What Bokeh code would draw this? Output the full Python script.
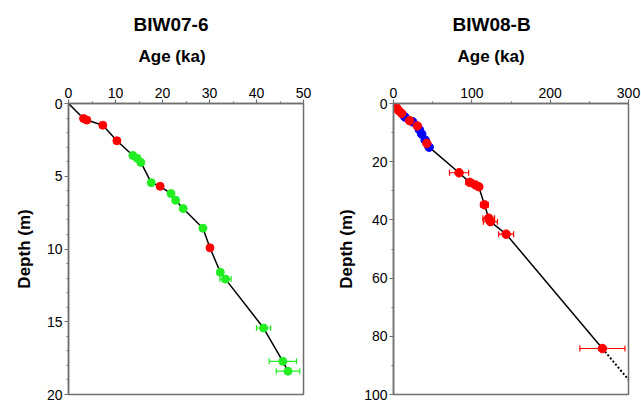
from bokeh.plotting import figure
from bokeh.layouts import row
from bokeh.models import Range1d, FixedTicker, Whisker, ColumnDataSource, TeeHead, Title
from bokeh.embed import file_html
from bokeh.resources import INLINE

# ---------------- data: BIW07-6 ----------------
b7_red_age = [3.2, 3.9, 7.3, 10.3, 19.5, 30.1]
b7_red_depth = [1.03, 1.14, 1.49, 2.56, 5.69, 9.92]
b7_green_age = [13.7, 14.6, 15.4, 17.6, 21.8, 22.8, 24.4, 28.6, 32.3, 33.4, 41.5, 45.6, 46.7]
b7_green_depth = [3.57, 3.77, 4.05, 5.44, 6.19, 6.65, 7.22, 8.57, 11.6, 12.07, 15.43, 17.72, 18.4]
b7_green_err = [0, 0, 0, 0, 0, 0, 0, 0, 0, 1.2, 1.5, 2.9, 2.5]

# ---------------- data: BIW08-B ----------------
b8_green_age = [1.0]
b8_green_depth = [0.8]
b8_red_age = [3.5, 6.5, 10.5, 20.5, 30.5, 42.5]
b8_red_depth = [1.3, 2.4, 3.4, 5.9, 7.7, 13.7]
b8_blue_age = [14.5, 24.5, 33.0, 36.0, 40.5, 45.5]
b8_blue_depth = [4.6, 6.3, 9.0, 10.5, 12.6, 15.0]
b8_rederr_age = [83.7, 97.3, 104.6, 108.9, 116.1, 121.6, 123.7, 143.8, 266.7]
b8_rederr_depth = [23.8, 27.1, 28.0, 28.6, 34.8, 39.4, 40.6, 44.9, 84.2]
b8_rederr_err = [12.2, 5.0, 4.0, 4.0, 5.0, 7.5, 9.0, 9.5, 28.8]
b8_extrap_age = [266.7, 300.0]
b8_extrap_depth = [84.2, 94.9]

RED = "#ff0000"
GREEN = "#22ee22"
BLUE = "#0000ff"
GRAY = "#707070"
FONT = "Liberation Sans"


def make_fig(xmax, ymax, xticks, xminor, yticks, yminor, left, right, ylab_standoff):
    p = figure(frame_width=235, frame_height=291,
               x_range=Range1d(0, xmax), y_range=Range1d(ymax, 0),
               x_axis_location="above", toolbar_location=None,
               output_backend="svg",
               min_border_left=left, min_border_right=right,
               min_border_top=103, min_border_bottom=7)
    p.grid.visible = False
    p.outline_line_color = GRAY
    p.outline_line_width = 1.5
    p.background_fill_color = "white"
    p.border_fill_color = "white"
    p.xaxis.ticker = FixedTicker(ticks=xticks, minor_ticks=xminor)
    p.yaxis.ticker = FixedTicker(ticks=yticks, minor_ticks=yminor)
    for ax in (p.xaxis[0], p.yaxis[0]):
        ax.axis_line_color = GRAY
        ax.axis_line_width = 1.5
        ax.major_tick_line_color = GRAY
        ax.minor_tick_line_color = GRAY
        ax.major_tick_line_width = 1.2
        ax.minor_tick_line_width = 1.2
        ax.major_tick_in = 0
        ax.major_tick_out = 4
        ax.minor_tick_in = 0
        ax.minor_tick_out = 2
        ax.major_label_text_font = FONT
        ax.major_label_text_font_size = "14px"
        ax.major_label_text_color = "black"
        ax.major_label_standoff = 2
    p.yaxis.axis_label = "Depth (m)"
    p.yaxis.axis_label_text_font = FONT
    p.yaxis.axis_label_text_font_size = "17px"
    p.yaxis.axis_label_text_font_style = "bold"
    p.yaxis.axis_label_text_color = "black"
    p.yaxis.axis_label_standoff = ylab_standoff
    return p


def add_titles(p, title, off_title, off_age):
    p.title.visible = False
    p.add_layout(Title(text="Age (ka)", align="left", offset=off_age,
                       text_font=FONT, text_font_size="17px",
                       text_font_style="bold", text_color="black",
                       standoff=37), "above")
    p.add_layout(Title(text=title, align="left", offset=off_title,
                       text_font=FONT, text_font_size="19px",
                       text_font_style="bold", text_color="black",
                       standoff=-17), "above")


def add_errors(p, ages, depths, errs, color):
    sel = [i for i, e in enumerate(errs) if e > 0]
    src = ColumnDataSource(dict(
        y=[depths[i] for i in sel],
        lo=[ages[i] - errs[i] for i in sel],
        hi=[ages[i] + errs[i] for i in sel]))
    w = Whisker(source=src, base="y", lower="lo", upper="hi", dimension="width",
                line_color=color, line_width=1.2,
                lower_head=TeeHead(size=6, line_color=color, line_width=1.2),
                upper_head=TeeHead(size=6, line_color=color, line_width=1.2))
    p.add_layout(w)


# ---------------- left panel ----------------
p1 = make_fig(50, 20, [0, 10, 20, 30, 40, 50], [5, 15, 25, 35, 45],
              [0, 5, 10, 15, 20], [i for i in range(21) if i % 5], 68, 27, 10)
pts = sorted(zip(b7_red_depth + b7_green_depth, b7_red_age + b7_green_age))
line_d = [0.0] + [d for d, a in pts]
line_a = [0.0] + [a for d, a in pts]
p1.line(line_a, line_d, line_color="black", line_width=1.5)
add_errors(p1, b7_green_age, b7_green_depth, b7_green_err, GREEN)
p1.scatter(b7_red_age, b7_red_depth, size=8, color=RED)
p1.scatter(b7_green_age, b7_green_depth, size=8, color=GREEN)
add_titles(p1, "BIW07-6", 65, 70)

# ---------------- right panel ----------------
p2 = make_fig(300, 100, [0, 100, 200, 300], [50, 150, 250],
              [0, 20, 40, 60, 80, 100], [10, 30, 50, 70, 90], 63, 13, 5)
pts2 = sorted(zip(b8_green_depth + b8_red_depth + b8_blue_depth + b8_rederr_depth,
                  b8_green_age + b8_red_age + b8_blue_age + b8_rederr_age))
line2_d = [0.0] + [d for d, a in pts2]
line2_a = [0.0] + [a for d, a in pts2]
p2.line(line2_a, line2_d, line_color="black", line_width=1.5)
p2.line(b8_extrap_age, b8_extrap_depth, line_color="black", line_width=2,
        line_dash="2 2")
add_errors(p2, b8_rederr_age, b8_rederr_depth, b8_rederr_err, RED)
p2.scatter(b8_green_age, b8_green_depth, size=8.5, color=GREEN)
p2.scatter(b8_blue_age, b8_blue_depth, size=8.5, color=BLUE)
p2.scatter(b8_red_age, b8_red_depth, size=8.5, color=RED)
p2.scatter(b8_rederr_age, b8_rederr_depth, size=8.5, color=RED)
add_titles(p2, "BIW08-B", 59, 64)

layout = row(p1, p2)
open("out.html", "w").write(file_html(layout, INLINE))
